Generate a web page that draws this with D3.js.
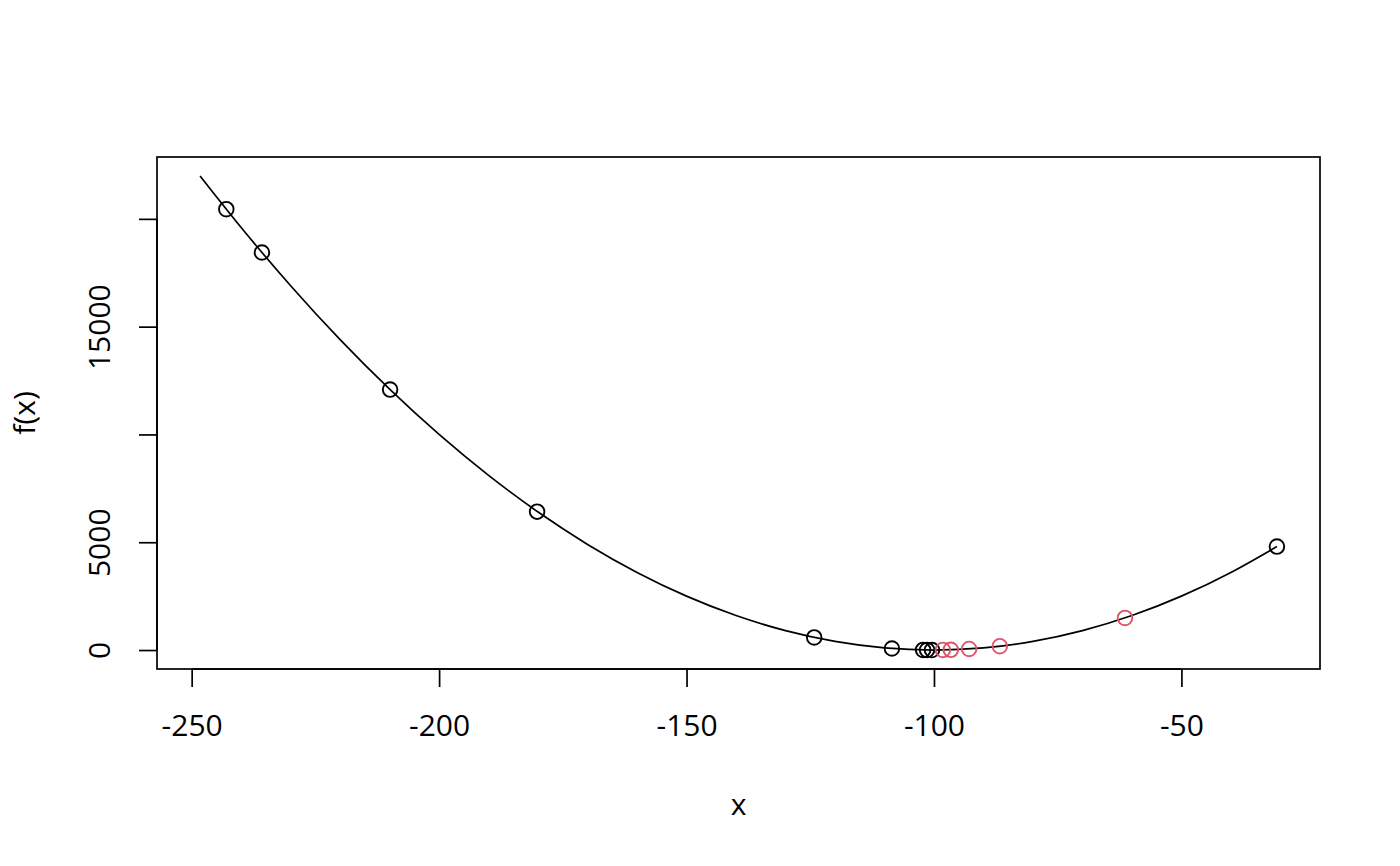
<!DOCTYPE html>
<html>
<head>
<meta charset="utf-8">
<script src="https://cdn.jsdelivr.net/npm/d3@7"></script>
<style>
body { margin: 0; background: #fff; }
text { font-family: "Open Sans", sans-serif; }
</style>
</head>
<body>
<script>
var width = 1400,
    height = 866;

var blackX = [-243.0, -235.8, -209.9, -180.2, -124.2, -108.5, -102.2, -101.4, -100.4, -30.7];
var blackY = [20450, 18440, 12080, 6420, 585, 72, 5, 2, 0, 4800];
var redX = [-98.2, -96.6, -92.9, -86.7, -61.4];
var redY = [3, 11, 50, 177, 1490];

// the curve f(x)
var curveX = [-248.3, -240, -230, -220, -210, -200, -190, -180, -170, -160, -150, -140, -130, -120, -110, -100, -90, -80, -70, -60, -50, -40, -30.7];
var curveY = [21990, 19600, 16900, 14400, 12100, 10000, 8100, 6400, 4900, 3600, 2500, 1600, 900, 400, 100, 0, 100, 400, 900, 1600, 2500, 3600, 4800];

var xTicks = [-250, -200, -150, -100, -50];
var yTicks = [0, 5000, 10000, 15000, 20000];
var yLabels = {0: "0", 5000: "5000", 15000: "15000"};

var box = {left: 157, right: 1320, top: 157, bottom: 669};

var svg = d3.select("body").append("svg")
    .attr("width", width)
    .attr("height", height);

// R style 4% axis extension
var xr = [-248.3, -30.7], xpad = (xr[1] - xr[0]) * 0.04;
var yr = [0, 21990], ypad = (yr[1] - yr[0]) * 0.04;

var x = d3.scaleLinear().domain([xr[0] - xpad, xr[1] + xpad]).range([box.left, box.right]);
var y = d3.scaleLinear().domain([yr[0] - ypad, yr[1] + ypad]).range([box.bottom, box.top]);

var line = d3.line()
    .x(function(d) { return x(d[0]); })
    .y(function(d) { return y(d[1]); })
    .curve(d3.curveNatural);

svg.append("path")
    .datum(d3.zip(curveX, curveY))
    .attr("d", line)
    .attr("fill", "none")
    .attr("stroke", "#000")
    .attr("stroke-width", 1.7);

function dots(xs, ys, color) {
  svg.append("g").selectAll("circle")
    .data(d3.zip(xs, ys))
    .enter().append("circle")
    .attr("cx", function(d) { return x(d[0]); })
    .attr("cy", function(d) { return y(d[1]); })
    .attr("r", 7.3)
    .attr("fill", "none")
    .attr("stroke", color)
    .attr("stroke-width", 1.9);
}
dots(blackX, blackY, "#000");
dots(redX, redY, "#df536b");

svg.append("rect")
    .attr("x", box.left).attr("y", box.top)
    .attr("width", box.right - box.left).attr("height", box.bottom - box.top)
    .attr("fill", "none").attr("stroke", "#000").attr("stroke-width", 1.7);

// x axis
var xAxis = svg.append("g").attr("transform", "translate(0," + box.bottom + ")")
    .call(d3.axisBottom(x).tickValues(xTicks).tickSize(18).tickSizeOuter(0)
      .tickFormat(function(d) { return String(d); }));
xAxis.select(".domain").attr("d", "M" + x(-250) + ",0H" + x(-50));
xAxis.selectAll("text").attr("y", 46).attr("dy", "0.71em");

// y axis
var yAxis = svg.append("g").attr("transform", "translate(" + box.left + ",0)")
    .call(d3.axisLeft(y).tickValues(yTicks).tickSize(18).tickSizeOuter(0)
      .tickFormat(function(d) { return yLabels[d] || ""; }));
yAxis.select(".domain").attr("d", "M0," + y(0) + "V" + y(20000));
yAxis.selectAll("text")
    .attr("x", 0).attr("dy", null)
    .attr("transform", "translate(-47,0) rotate(-90)")
    .attr("text-anchor", "middle");

svg.selectAll(".tick line, .domain").attr("stroke", "#000").attr("stroke-width", 1.7);
svg.selectAll(".tick text").attr("font-size", 30).attr("font-family", "Open Sans").attr("fill", "#000");

svg.append("text")
    .attr("x", (box.left + box.right) / 2).attr("y", 815)
    .attr("text-anchor", "middle")
    .attr("font-size", 30)
    .text("x");

svg.append("text")
    .attr("transform", "translate(35," + (box.top + box.bottom) / 2 + ") rotate(-90)")
    .attr("text-anchor", "middle")
    .attr("font-size", 30)
    .text("f(x)");
</script>
</body>
</html>
